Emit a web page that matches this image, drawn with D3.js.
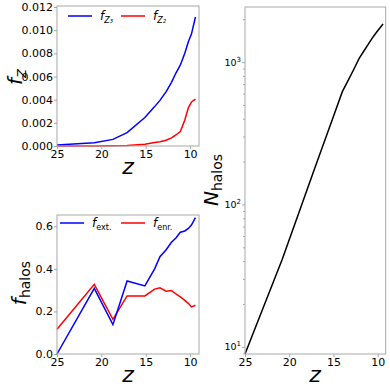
<!DOCTYPE html>
<html>
<head>
<meta charset="utf-8">
<script src="https://cdn.jsdelivr.net/npm/d3@7"></script>
<style>
  body { margin: 0; background: #fff; }
  svg { display: block; font-family: "DejaVu Sans", sans-serif; }
</style>
</head>
<body>
<svg id="chart" width="390" height="390"></svg>
<script>
// redshift snapshots shared by all panels
const redshifts = [25, 20.8, 18.7, 17.1, 15.1, 14.0, 13.4, 12.7, 12.1, 11.6, 11.1, 10.6, 10.2, 9.85, 9.4];

const fZ3 = [0.00008, 0.00028, 0.00057, 0.00115, 0.00246, 0.0034, 0.00394, 0.0047, 0.0055, 0.0063, 0.0070, 0.0080, 0.0090, 0.00966, 0.01114];
const fZ2 = [0.0, 0.00001, 0.00002, 0.00005, 0.00015, 0.0003, 0.00037, 0.0005, 0.0007, 0.00095, 0.00124, 0.00225, 0.0033, 0.0038, 0.00405];

const fExt = [0.0, 0.308, 0.138, 0.343, 0.32, 0.40, 0.457, 0.49, 0.525, 0.545, 0.572, 0.578, 0.59, 0.606, 0.641];
const fEnr = [0.116, 0.327, 0.163, 0.273, 0.273, 0.305, 0.311, 0.295, 0.298, 0.282, 0.268, 0.252, 0.238, 0.221, 0.229];

const nHalos = [8.9, 41, 95, 181, 400, 620, 732, 890, 1060, 1186, 1325, 1480, 1600, 1706, 1853];

const zTicks = [25, 20, 15, 10];
const fZTicks = [0, 0.002, 0.004, 0.006, 0.008, 0.010, 0.012];
const fHaloTicks = [0, 0.2, 0.4, 0.6];

const svg = d3.select("#chart");
const spine = "#a8a8a8";

function frame(x0, x1, y0, y1) {
    svg.append("rect")
        .attr("x", x0).attr("y", y0)
        .attr("width", x1 - x0).attr("height", y1 - y0)
        .attr("fill", "none")
        .attr("stroke", spine)
        .attr("stroke-width", 1);
}

function styleAxis(g, size) {
    g.select(".domain").remove();
    g.selectAll(".tick line").attr("stroke", spine);
    g.selectAll(".tick text")
        .attr("fill", "#000")
        .attr("font-size", size)
        .attr("font-family", "DejaVu Sans, sans-serif");
}

function xAxis(x, yPos) {
    const g = svg.append("g")
        .attr("transform", `translate(0,${yPos})`)
        .call(d3.axisBottom(x).tickValues(zTicks).tickSize(3).tickPadding(1).tickFormat(d3.format("d")));
    styleAxis(g, 11);
}

function zLabel(cx, cy) {
    svg.append("text")
        .attr("x", cx).attr("y", cy)
        .attr("text-anchor", "middle")
        .attr("font-size", 22)
        .attr("font-style", "italic")
        .text("z");
}

function legendItem(x, y, color, base, sub, subStyle) {
    svg.append("line")
        .attr("x1", x).attr("x2", x + 24)
        .attr("y1", y).attr("y2", y)
        .attr("stroke", color).attr("stroke-width", 1.5);
    const t = svg.append("text")
        .attr("x", x + 32).attr("y", y + 4)
        .attr("font-size", 12);
    t.append("tspan").attr("font-style", "italic").text(base);
    t.append("tspan").attr("font-size", 8).attr("dy", 3)
        .attr("font-style", subStyle || "normal").text(sub);
}

// ---------- top-left: metal fractions ----------
{
    const x = d3.scaleLinear().domain([25, 9.0]).range([57, 199]);
    const y = d3.scaleLinear().domain([0, 0.012]).range([146, 7]);
    const line = d3.line().x((d, i) => x(redshifts[i])).y(d => y(d));

    svg.append("path").datum(fZ3).attr("d", line)
        .attr("fill", "none").attr("stroke", "#0000ff").attr("stroke-width", 1.5);
    svg.append("path").datum(fZ2).attr("d", line)
        .attr("fill", "none").attr("stroke", "#ff0000").attr("stroke-width", 1.5);

    frame(57, 199, 6, 146);
    xAxis(x, 146);
    const gy = svg.append("g").attr("transform", "translate(57,0)")
        .call(d3.axisLeft(y).tickValues(fZTicks).tickSize(3).tickPadding(1).tickFormat(d3.format(".3f")));
    styleAxis(gy, 11);

    zLabel(128, 174);
    const ylab = svg.append("text")
        .attr("transform", "translate(22,77) rotate(-90)")
        .attr("text-anchor", "middle")
        .attr("font-size", 20);
    ylab.append("tspan").attr("font-style", "italic").text("f");
    ylab.append("tspan").attr("font-style", "italic").attr("font-size", 13).attr("dy", 4).text("Z");

    legendItem(68, 16, "#0000ff", "f", "Z\u2083", "italic");
    legendItem(121, 16, "#ff0000", "f", "Z\u2082", "italic");
}

// ---------- bottom-left: halo fractions ----------
{
    const x = d3.scaleLinear().domain([25, 9.0]).range([57, 199]);
    const y = d3.scaleLinear().domain([0, 0.653]).range([354, 215]);
    const line = d3.line().x((d, i) => x(redshifts[i])).y(d => y(d));

    svg.append("path").datum(fEnr).attr("d", line)
        .attr("fill", "none").attr("stroke", "#ff0000").attr("stroke-width", 1.5);
    svg.append("path").datum(fExt).attr("d", line)
        .attr("fill", "none").attr("stroke", "#0000ff").attr("stroke-width", 1.5);

    frame(57, 199, 215, 354);
    xAxis(x, 354);
    const gy = svg.append("g").attr("transform", "translate(57,0)")
        .call(d3.axisLeft(y).tickValues(fHaloTicks).tickSize(3).tickPadding(1).tickFormat(d3.format(".1f")));
    styleAxis(gy, 11);

    zLabel(128, 382);
    const ylab = svg.append("text")
        .attr("transform", "translate(26,283) rotate(-90)")
        .attr("text-anchor", "middle")
        .attr("font-size", 20);
    ylab.append("tspan").attr("font-style", "italic").text("f");
    ylab.append("tspan").attr("font-size", 14).attr("dy", 4).text("halos");

    legendItem(60, 223, "#0000ff", "f", "ext.");
    legendItem(121, 223, "#ff0000", "f", "enr.");
}

// ---------- right: number of halos ----------
{
    const x = d3.scaleLinear().domain([25, 9.1]).range([245, 385.7]);
    const y = d3.scaleLog().domain([8.9, 2437]).range([354, 7]);
    const line = d3.line().x((d, i) => x(redshifts[i])).y(d => y(d));

    svg.append("path").datum(nHalos).attr("d", line)
        .attr("fill", "none").attr("stroke", "#000").attr("stroke-width", 1.5);

    frame(245, 385.7, 7, 354);
    xAxis(x, 354);

    const minor = [9, 20, 30, 40, 50, 60, 70, 80, 90, 200, 300, 400, 500, 600, 700, 800, 900, 2000];
    const gm = svg.append("g").attr("transform", "translate(245,0)")
        .call(d3.axisLeft(y).tickValues(minor).tickSize(2).tickFormat(""));
    styleAxis(gm, 8);
    const gy = svg.append("g").attr("transform", "translate(245,0)")
        .call(d3.axisLeft(y).tickValues([10, 100, 1000]).tickSize(3).tickPadding(2).tickFormat(""));
    styleAxis(gy, 9);
    [10, 100, 1000].forEach((v, i) => {
        const t = svg.append("text")
            .attr("x", 241).attr("y", y(v) + 3.5)
            .attr("text-anchor", "end")
            .attr("font-size", 9.5);
        t.append("tspan").text("10");
        t.append("tspan").attr("font-size", 7).attr("dy", -4).text(String(i + 1));
    });

    zLabel(315, 382);
    const ylab = svg.append("text")
        .attr("transform", "translate(218,180) rotate(-90)")
        .attr("text-anchor", "middle")
        .attr("font-size", 20);
    ylab.append("tspan").attr("font-style", "italic").text("N");
    ylab.append("tspan").attr("font-size", 14).attr("dy", 4).text("halos");
}
</script>
</body>
</html>
